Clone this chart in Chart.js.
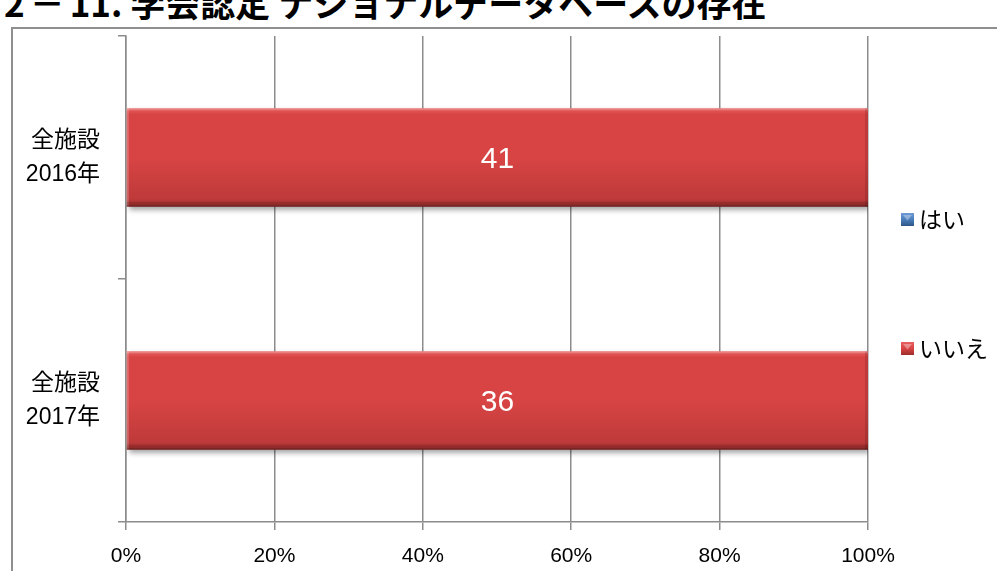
<!DOCTYPE html>
<html>
<head>
<meta charset="utf-8">
<script src="https://cdn.jsdelivr.net/npm/chart.js@4/dist/chart.umd.min.js"></script>
<style>
  html, body { margin: 0; padding: 0; background: #fff; width: 997px; height: 571px; overflow: hidden; }
  #title {
    position: absolute; left: 4px; top: -16px; white-space: nowrap;
    font: bold 35px "Noto Sans CJK JP", sans-serif; line-height: 1; color: #000;
  }
  #title .gap { margin: 0 5px; }
  #frame {
    position: absolute; left: 11px; top: 27px; width: 1000px; height: 600px;
    border: 2px solid #8f8f8f; box-sizing: border-box;
  }
  #chart { position: absolute; left: 0; top: 0; }
</style>
</head>
<body>
<div id="title">2<span class="gap">－</span>11. 学会認定 ナショナルデータベースの存在</div>
<div id="frame"></div>
<canvas id="chart" width="997" height="571"></canvas>
<script>
// Facilities answering each question, per survey year
const categories = [['全施設', '2016年'], ['全施設', '2017年']];
const seriesNames = ['はい', 'いいえ'];
const yesCounts = [0, 0];
const noCounts = [41, 36];
const xTickValues = [0, 20, 40, 60, 80, 100];

const totals = yesCounts.map((v, i) => v + noCounts[i]);
const yesPct = yesCounts.map((v, i) => v / totals[i] * 100);
const noPct = noCounts.map((v, i) => v / totals[i] * 100);

const latin = '"Liberation Sans", "Noto Sans CJK JP", sans-serif';
const axisGray = '#8c8c8c';
const BAR_FRACTION = 0.45 * 0.9;

const palettes = {
  'はい':  ['#6f9ad6', '#4a7ebb', '#3e6ca3', '#2f5587'],
  'いいえ': ['#e86060', '#d84444', '#bf3a3a', '#9c2d2d']
};

// vertical gradient spanning one bar
function barFill(context) {
  const chart = context.chart;
  const ys = chart.scales.y;
  const pal = palettes[context.dataset.label];
  if (!ys || ys.top === undefined) return pal[1];
  const center = ys.getPixelForValue(context.dataIndex);
  const half = ys.height / categories.length * BAR_FRACTION / 2;
  const g = chart.ctx.createLinearGradient(0, center - half, 0, center + half);
  g.addColorStop(0, pal[0]);
  g.addColorStop(0.06, pal[1]);
  g.addColorStop(0.5, pal[1]);
  g.addColorStop(0.92, pal[2]);
  g.addColorStop(1, pal[3]);
  return g;
}

// soft shadow under the bars plus a light bevel on their edges
const bevelPlugin = {
  id: 'bevel',
  beforeDatasetsDraw(chart) {
    const ctx = chart.ctx;
    ctx.save();
    ctx.shadowColor = 'rgba(0,0,0,0.35)';
    ctx.shadowBlur = 5;
    ctx.shadowOffsetX = 2;
    ctx.shadowOffsetY = 3;
  },
  afterDatasetsDraw(chart) {
    const ctx = chart.ctx;
    ctx.restore();
    chart.data.datasets.forEach((ds, di) => {
      chart.getDatasetMeta(di).data.forEach(bar => {
        const { x, y, base, height } = bar.getProps(['x', 'y', 'base', 'height'], true);
        const left = Math.min(base, x), right = Math.max(base, x);
        if (right - left < 1) return;
        const top = y - height / 2, bottom = y + height / 2;
        ctx.save();
        ctx.fillStyle = 'rgba(255,255,255,0.22)';
        ctx.fillRect(left, top, right - left, 2);
        ctx.fillRect(left, top, 2, height);
        ctx.fillStyle = 'rgba(0,0,0,0.12)';
        ctx.fillRect(left, bottom - 5, right - left, 5);
        ctx.fillRect(right - 3, top, 3, height);
        ctx.fillStyle = 'rgba(0,0,0,0.18)';
        ctx.fillRect(left, bottom - 1.5, right - left, 1.5);
        ctx.restore();
      });
    });
  }
};

// counts written in the middle of each visible bar
const countLabels = {
  id: 'countLabels',
  afterDatasetsDraw(chart) {
    const ctx = chart.ctx;
    ctx.save();
    ctx.font = '30px ' + latin;
    ctx.fillStyle = '#ffffff';
    ctx.textAlign = 'center';
    ctx.textBaseline = 'middle';
    const counts = [yesCounts, noCounts];
    chart.data.datasets.forEach((ds, di) => {
      chart.getDatasetMeta(di).data.forEach((bar, i) => {
        const v = counts[di][i];
        if (!v) return;
        const { x, y, base } = bar.getProps(['x', 'y', 'base'], true);
        ctx.fillText(String(v), (x + base) / 2, y + 2);
      });
    });
    ctx.restore();
  }
};

// legend to the right of the plot, items spread vertically
const sideLegend = {
  id: 'sideLegend',
  afterDraw(chart) {
    const ctx = chart.ctx;
    const area = chart.chartArea;
    const cx = area.right + 33;
    const mid = (area.top + area.bottom) / 2 + 5;
    const gap = 129;
    ctx.save();
    chart.data.datasets.forEach((ds, i) => {
      const y = mid + (i - (chart.data.datasets.length - 1) / 2) * gap;
      const pal = palettes[ds.label];
      const s = 13;
      const g = ctx.createLinearGradient(0, y - s / 2, 0, y + s / 2);
      g.addColorStop(0, pal[0]);
      g.addColorStop(0.5, pal[1]);
      g.addColorStop(1, pal[3]);
      ctx.fillStyle = g;
      ctx.fillRect(cx, y - s / 2, s, s);
      ctx.fillStyle = 'rgba(255,255,255,0.35)';
      ctx.beginPath();
      ctx.moveTo(cx + 2, y - s / 2 + 2);
      ctx.lineTo(cx + s - 2, y - s / 2 + 2);
      ctx.lineTo(cx + s / 2, y + 1);
      ctx.closePath();
      ctx.fill();
      ctx.fillStyle = '#000';
      ctx.font = '23px "Noto Sans CJK JP", sans-serif';
      ctx.textAlign = 'left';
      ctx.textBaseline = 'middle';
      ctx.fillText(ds.label, cx + s + 5, y);
    });
    ctx.restore();
  }
};

new Chart(document.getElementById('chart'), {
  type: 'bar',
  data: {
    labels: categories,
    datasets: [
      { label: seriesNames[0], data: yesPct, backgroundColor: barFill, borderWidth: 0 },
      { label: seriesNames[1], data: noPct, backgroundColor: barFill, borderWidth: 0 }
    ]
  },
  options: {
    indexAxis: 'y',
    responsive: false,
    animation: false,
    devicePixelRatio: 1,
    categoryPercentage: 0.45,
    barPercentage: 0.9,
    layout: { padding: { top: 36, right: 129, left: 0, bottom: 0 } },
    plugins: { legend: { display: false }, tooltip: { enabled: false } },
    scales: {
      x: {
        stacked: true,
        min: 0, max: 100,
        afterBuildTicks: s => { s.ticks = xTickValues.map(v => ({ value: v })); },
        afterFit: s => { s.height = 49; s.paddingLeft = 0; s.paddingRight = 0; },
        ticks: {
          callback: v => v + '%',
          color: '#000',
          font: { family: latin, size: 21 },
          padding: 14,
          maxRotation: 0
        },
        grid: { color: axisGray, lineWidth: 1.5, tickLength: 8 },
        border: { color: axisGray, width: 1.5 }
      },
      y: {
        stacked: true,
        afterFit: s => { s.width = 126; s.paddingTop = 0; s.paddingBottom = 0; },
        ticks: {
          color: '#000',
          font: { family: latin, size: 23, lineHeight: 1.45 },
          padding: 18
        },
        grid: { offset: true, drawOnChartArea: false, color: axisGray, lineWidth: 1.5, tickLength: 8 },
        border: { color: axisGray, width: 1.5 }
      }
    }
  },
  plugins: [bevelPlugin, countLabels, sideLegend]
});
</script>
</body>
</html>
